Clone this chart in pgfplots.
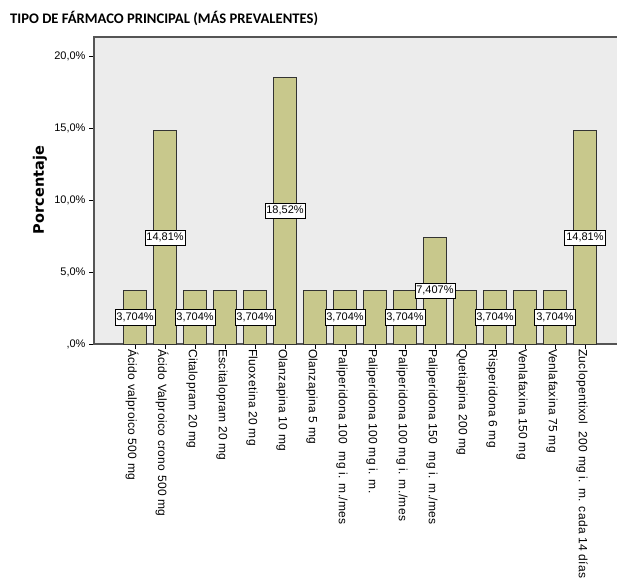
\documentclass[border=0pt]{standalone}
\usepackage{fontspec}
\setmainfont{Liberation Sans}
\newfontfamily\titlefont{Carlito}
\newfontfamily\ylabfont{DejaVu Sans}
\newfontfamily\tickfont[LetterSpace=3]{Liberation Sans}
\usepackage{pgfplots}
\pgfplotsset{compat=1.18}
\usepackage{pgfplotstable}
\definecolor{barcol}{RGB}{200,200,140}
\definecolor{bgcol}{RGB}{236,236,236}
\definecolor{axcol}{RGB}{85,85,85}
\pgfplotstableread{
x val
0 3.704
1 14.81
2 3.704
3 3.704
4 3.704
5 18.52
6 3.704
7 3.704
8 3.704
9 3.704
10 7.407
11 3.704
12 3.704
13 3.704
14 3.704
15 14.81
}\datatable
\begin{document}
\begin{tikzpicture}
\path[use as bounding box] (0pt,0pt) rectangle (617pt,581pt);
\node[anchor=base west,inner sep=0pt,font=\titlefont\bfseries\fontsize{14.6}{17}\selectfont] at (10pt,557pt) {TIPO DE FÁRMACO PRINCIPAL (MÁS PREVALENTES)};
\begin{axis}[
  at={(94pt,237pt)}, anchor=south west,
  scale only axis, width=526pt, height=307pt,
  xmin=-1.37, xmax=16.17,
  ymin=0, ymax=21.32,
  axis background/.style={fill=bgcol},
  axis line style={draw=axcol, line width=1.1pt},
  tick style={draw=black, line width=0.6pt},
  tick align=outside, major tick length=5pt,
  xtick pos=bottom, ytick pos=left,
  ytick={0,5,10,15,20},
  yticklabels={{,0\%},{5,0\%},{10,0\%},{15,0\%},{20,0\%}},
  yticklabel style={font=\fontsize{11}{13}\selectfont, xshift=0pt},
  xtick={0,...,15},
  xticklabels={{Ácido valproico 500 mg},{Ácido Valproico crono 500 mg},{Citalopram 20 mg},{Escitalopram 20 mg},{Fluoxetina 20 mg},{Olanzapina 10 mg},{Olanzapina 5 mg},{Paliperidona 100\ \ mg i. m./mes},{Paliperidona 100 mg i. m.},{Paliperidona 100 mg i. m./mes},{Paliperidona 150\ \ mg i. m./mes},{Quetiapina 200 mg},{Risperidona 6 mg},{Venlafaxina 150 mg},{Venlafaxina 75 mg},{Zuclopentixol\ \ 200 mg i. m. cada 14 días}},
  xticklabel style={rotate=-90, anchor=west, font=\tickfont\fontsize{12}{14}\selectfont, inner sep=0pt, yshift=-3pt},
  ylabel={Porcentaje},
  ylabel style={at={(axis description cs:-0.103,0.5016)}, anchor=center, rotate=0, font=\ylabfont\bfseries\fontsize{14.5}{17}\selectfont},
  clip=false,
]
\addplot[ybar, bar width=23pt, fill=barcol, draw=black!80, line width=0.8pt] table[x=x,y=val]{\datatable};
\addplot[only marks, mark=none, point meta=explicit symbolic,
  nodes near coords,
  nodes near coords style={anchor=center, fill=white, draw=black, line width=0.6pt, inner xsep=1.5pt, inner ysep=3pt, font=\fontsize{11}{13}\selectfont}]
  coordinates {
  (0,1.852) [3,704\%]
  (1,7.405) [14,81\%]
  (2,1.852) [3,704\%]
  (4,1.852) [3,704\%]
  (5,9.26) [18,52\%]
  (7,1.852) [3,704\%]
  (9,1.852) [3,704\%]
  (10,3.7035) [7,407\%]
  (12,1.852) [3,704\%]
  (14,1.852) [3,704\%]
  (15,7.405) [14,81\%]
  };
\end{axis}
\end{tikzpicture}
\end{document}
